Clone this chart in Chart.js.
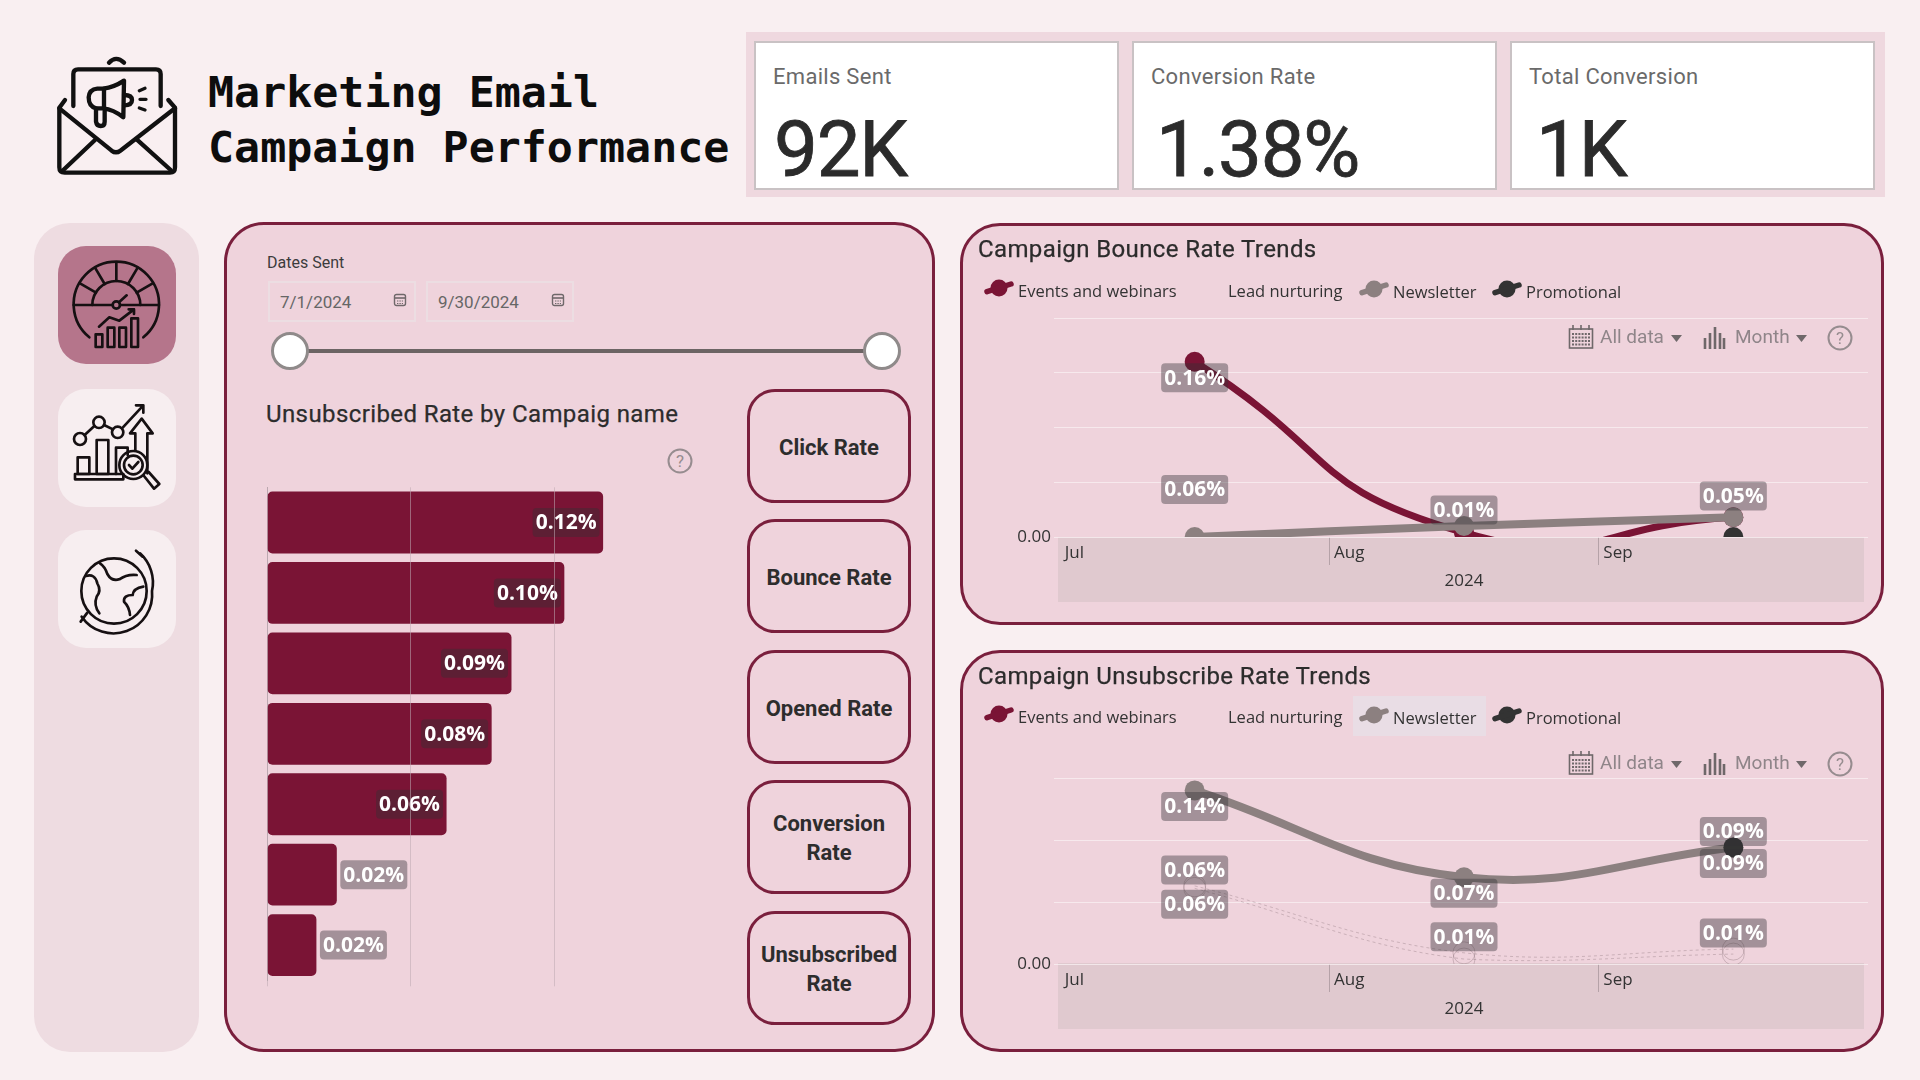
<!DOCTYPE html>
<html>
<head>
<meta charset="utf-8">
<title>Marketing Email Campaign Performance</title>
<script src="https://cdn.jsdelivr.net/npm/chart.js@4/dist/chart.umd.js"></script>
<style>
  html, body { margin: 0; padding: 0; }
  body { width: 1920px; height: 1080px; overflow: hidden; background: #f9eff1; position: relative; font-family: Roboto, sans-serif; color: #2f2f2f; }
  .box { position: absolute; box-sizing: border-box; }
  .t { position: absolute; white-space: nowrap; transform: translateY(-50%); }
  .panel { background: #efd3dc; border: 3px solid #7a1f3d; border-radius: 40px; }
  .band { background: #e0c9cf; }
  .metric-btn { border: 3px solid #7a1f3d; border-radius: 28px; display: flex; align-items: center; justify-content: center; text-align: center; font: 700 22px/29px Roboto, sans-serif; color: #2d2d2d; padding-top: 2px; }
  canvas { position: absolute; }
  svg { position: absolute; overflow: visible; }
</style>
</head>
<body>
<div class="box" style="left:746px;top:32px;width:1139px;height:165px;background:#efd8df"></div>

<!-- header icon -->
<svg style="left:40px;top:40px" width="150" height="150" viewBox="0 0 450 450" fill="none" stroke="#111" stroke-width="13" stroke-linecap="round" stroke-linejoin="round">
  <path d="M75 180 L58 203 V382 Q58 398 74 398 H390 Q405 398 405 382 V203 L385 180"/>
  <path d="M58 205 L215 332 Q228 342 241 332 L405 205"/>
  <path d="M165 300 L70 390 M290 298 L392 390"/>
  <path d="M100 198 V102 Q100 88 114 88 H348 Q362 88 362 102 V198"/>
  <path d="M207 68 Q228 45 252 68"/>
  <path d="M252 122 L250 232 Q220 208 190 205 H168 Q146 200 146 172 Q148 148 172 146 H190 Q222 142 252 122 Z"/>
  <path d="M192 146 V205 M168 205 V245 Q170 258 182 258 Q194 258 194 245 V208"/>
  <path d="M252 165 Q276 165 276 180 Q276 196 252 196"/>
  <path d="M298 152 L315 145 M300 178 L318 178 M298 204 L315 210" stroke-width="10"/>
</svg>
<div class="t" style="left:208px;top:92px;font:700 43.3px 'DejaVu Sans Mono',monospace;color:#0d0d0d">Marketing Email</div>
<div class="t" style="left:208px;top:147px;font:700 43.3px 'DejaVu Sans Mono',monospace;color:#0d0d0d">Campaign Performance</div>

<!-- sidebar -->
<div class="box" style="left:34px;top:223px;width:165px;height:829px;background:#eedce1;border-radius:36px"></div>
<div class="box" style="left:58px;top:246px;width:118px;height:118px;background:#b5758b;border-radius:28px"></div>
<div class="box" style="left:58px;top:389px;width:118px;height:118px;background:#f7eef0;border-radius:28px"></div>
<div class="box" style="left:58px;top:530px;width:118px;height:118px;background:#f7eef0;border-radius:28px"></div>
<svg style="left:30px;top:220px" width="180" height="450" viewBox="0 0 540 1350" fill="none" stroke="#161012" stroke-width="8" stroke-linecap="round" stroke-linejoin="round">
  <!-- gauge -->
  <path d="M178 352 A128 128 0 1 1 340 352"/>
  <path d="M131 255 H248 M270 255 H387"/>
  <path d="M187 255 A72 72 0 0 1 331 255"/>
  <path d="M259 127 V183 M195 143 L224 192 M150 190 L198 218 M323 143 L294 192 M368 190 L320 218"/>
  <circle cx="259" cy="255" r="11"/>
  <path d="M267 247 L290 226"/>
  <path d="M207 320 L238 292 L268 302 L312 268 M296 268 H312 V282"/>
  <rect x="197" y="343" width="20" height="38"/><rect x="233" y="323" width="20" height="58"/>
  <rect x="268" y="323" width="20" height="58"/><rect x="304" y="295" width="20" height="86"/>
  <!-- analysis -->
  <circle cx="150" cy="657" r="18"/><circle cx="207" cy="607" r="17"/><circle cx="263" cy="637" r="17"/>
  <path d="M164 645 L193 618 M222 615 L249 628 M276 625 L340 556 M318 556 H340 V578"/>
  <rect x="143" y="712" width="35" height="50"/><rect x="200" y="660" width="35" height="102"/>
  <path d="M258 762 V683 H293 V705"/>
  <rect x="135" y="762" width="145" height="16"/>
  <path d="M316 690 V640 H300 L335 596 L368 640 H352 V760"/>
  <circle cx="310" cy="735" r="42"/><circle cx="310" cy="735" r="28"/>
  <path d="M297 735 L307 746 L325 726"/>
  <path d="M342 768 L372 806 L388 792 L356 756"/>
  <!-- globe -->
  <circle cx="252" cy="1113" r="98"/>
  <path d="M330 1000 A118 118 0 0 1 366 1113 A116 116 0 0 1 155 1190"/>
  <path d="M318 992 L338 1010 M152 1205 L172 1178"/>
  <path d="M210 1030 Q225 1040 232 1062 Q245 1085 268 1078 Q290 1062 320 1065 M168 1068 Q195 1060 202 1090 Q215 1112 200 1130 Q190 1155 208 1180"/>
  <path d="M340 1100 Q310 1105 308 1125 Q280 1125 282 1145 Q298 1160 300 1185"/>
</svg>

<!-- main panels -->
<div class="box panel" style="left:224px;top:222px;width:711px;height:830px"></div>
<div class="box panel" style="left:960px;top:223px;width:924px;height:402px"></div>
<div class="box panel" style="left:960px;top:650px;width:924px;height:402px"></div>

<!-- axis bands behind the trend charts -->
<div class="box band" style="left:1058px;top:537px;width:806px;height:65px"></div>
<div class="box band" style="left:1058px;top:963px;width:806px;height:66px"></div>

<!-- newsletter highlight in lower legend -->
<div class="box" style="left:1353px;top:696px;width:133px;height:40px;background:#e9dde5"></div>

<canvas id="barChart" width="421" height="510" style="left:250px;top:480px"></canvas>
<canvas id="bounceChart" width="924" height="402" style="left:960px;top:223px"></canvas>
<canvas id="unsubChart" width="924" height="402" style="left:960px;top:650px"></canvas>

<script>
// kpi cards
const kpiLabels = ['Emails Sent', 'Conversion Rate', 'Total Conversion'];
const kpiValues = ['92K', '1.38%', '1K'];

// metric buttons
const metricButtons = ['Click Rate', 'Bounce Rate', 'Opened Rate', 'Conversion<br>Rate', 'Unsubscribed<br>Rate'];

// slicer
const dateFrom = '7/1/2024';
const dateTo = '9/30/2024';

// bar chart, campaign names are not shown on the report
const barCampaigns = ['Campaign 1', 'Campaign 2', 'Campaign 3', 'Campaign 4', 'Campaign 5', 'Campaign 6', 'Campaign 7'];
const barRates = [0.117, 0.1035, 0.0851, 0.0782, 0.0625, 0.0243, 0.0172];

// trend charts
const months = ['Jul', 'Aug', 'Sep'];
const yearLabel = '2024';
const campaignTypes = ['Events and webinars', 'Lead nurturing', 'Newsletter', 'Promotional'];

const bounceEvents = [0.16, 0.004, 0.018];
const bounceLead = [0.058, 0.01, 0.052];
const bounceNewsletter = [0.0, 0.01, 0.018];
const bouncePromotional = [null, null, 0.0];

const unsubEvents = [0.063, 0.009, 0.012];
const unsubLead = [0.061, 0.004, 0.008];
const unsubNewsletter = [0.14, 0.07, 0.094];
const unsubPromotional = [null, null, 0.094];

const MAROON = '#7a1435';
const GREY = '#8c8080';
const DARK = '#333333';
const HAIR = 'rgba(120,95,102,0.3)';

function addText(x, y, str, css) {
    const el = document.createElement('div');
    el.className = 't';
    el.style.cssText = 'left:' + x + 'px;top:' + y + 'px;' + css;
    el.innerHTML = str;
    document.body.appendChild(el);
    return el;
}

function addBox(x, y, w, h, css, html) {
    const el = document.createElement('div');
    el.className = 'box';
    el.style.cssText = 'left:' + x + 'px;top:' + y + 'px;width:' + w + 'px;height:' + h + 'px;' + css;
    if (html) el.innerHTML = html;
    document.body.appendChild(el);
    return el;
}

function addSvg(x, y, w, h, inner) {
    const wrap = document.createElementNS('http://www.w3.org/2000/svg', 'svg');
    wrap.setAttribute('width', w);
    wrap.setAttribute('height', h);
    wrap.setAttribute('viewBox', '0 0 ' + w + ' ' + h);
    wrap.style.left = x + 'px';
    wrap.style.top = y + 'px';
    wrap.innerHTML = inner;
    document.body.appendChild(wrap);
}

function helpIcon(cx, cy) {
    addSvg(cx - 14, cy - 14, 28, 28,
        '<circle cx="14" cy="14" r="11.5" fill="none" stroke="#968c8f" stroke-width="2"/>' +
        '<text x="14" y="20" text-anchor="middle" font-family="Roboto" font-size="17" fill="#968c8f">?</text>');
}

function calendarSmall(x, y) {
    addSvg(x, y, 14, 14,
        '<rect x="1.5" y="1.5" width="11" height="11" rx="2" fill="none" stroke="#6f686a" stroke-width="1.4"/>' +
        '<path d="M1.5 5 H12.5" stroke="#6f686a" stroke-width="1.6"/>' +
        '<path d="M4 8 H10 M4 10.5 H10" stroke="#6f686a" stroke-width="1" stroke-dasharray="1.4 1"/>');
}

// kpi row
kpiLabels.forEach(function (label, i) {
    const left = [754, 1132, 1510][i];
    addBox(left, 41, 365, 149, 'background:#fff;border:2px solid #c9c2c4');
    addText(left + 19, 76, label, 'font:400 22px Roboto,sans-serif;letter-spacing:.3px;color:#6a6a6a');
    addText(left + [20, 24, 26][i], 149, kpiValues[i], 'font:400 78px Roboto,sans-serif;letter-spacing:-1.2px;-webkit-text-stroke:.8px #2b2b2b;color:#2b2b2b');
});

// date slicer
addText(267, 262, 'Dates Sent', 'font:400 16px Roboto,sans-serif;color:#3c3c3c');
[[268, dateFrom], [426, dateTo]].forEach(function (d) {
    addBox(d[0], 281, 148, 41, 'border:2px solid #ecdde2');
    addText(d[0] + 12, 302, d[1], 'font:400 17px Roboto,sans-serif;color:#666');
    calendarSmall(d[0] + 125, 293);
});
addBox(290, 349, 592, 4, 'background:#6c6464');
addBox(271, 332, 38, 38, 'background:#fff;border:3px solid #8f8a8a;border-radius:50%');
addBox(863, 332, 38, 38, 'background:#fff;border:3px solid #8f8a8a;border-radius:50%');

addText(266, 414, 'Unsubscribed Rate by Campaig name', 'font:400 24px Roboto,sans-serif;letter-spacing:.4px;-webkit-text-stroke:.25px #2c2c2c;color:#2c2c2c');
helpIcon(680, 461);

// metric buttons
metricButtons.forEach(function (label, i) {
    const top = [389, 519, 650, 780, 911][i];
    const el = addBox(747, top, 164, 114, '', label);
    el.classList.add('metric-btn');
});

// panel title, legend and the small visual header of the trend charts
function trendChrome(title, titleY, legendY, ctrlY) {
    addText(978, titleY, title, 'font:400 24px Roboto,sans-serif;letter-spacing:.38px;-webkit-text-stroke:.25px #2c2c2c;color:#2c2c2c');
    const textX = [1018, 1228, 1393, 1526];
    const markX = [985, null, 1360, 1493];
    const markCol = [MAROON, null, GREY, DARK];
    const dy = [0, 0, 1, 1];
    campaignTypes.forEach(function (name, i) {
        addText(textX[i], legendY + dy[i], name, 'font:400 16.5px "Open Sans",sans-serif;color:#333');
        if (markX[i] !== null) {
            addSvg(markX[i], legendY - 9 + dy[i], 27, 18,
                '<circle cx="14" cy="7" r="8.5" fill="' + markCol[i] + '"/>' +
                '<path d="M2 10.7 L26 3" stroke="' + markCol[i] + '" stroke-width="5.5" stroke-linecap="round"/>');
        }
    });
    // all data / month controls
    let grid = '<rect x="1.5" y="4" width="23" height="19" fill="none" stroke="#6f686a" stroke-width="1.6"/>' +
        '<path d="M5 0 V5 M13 0 V5 M21 0 V5" stroke="#6f686a" stroke-width="1.6"/>' +
        '<path d="M4 9 H23 M4 12.5 H23 M4 16 H23 M4 19.5 H23" stroke="#6f686a" stroke-width="2" stroke-dasharray="2 1.2"/>';
    addSvg(1568, ctrlY - 12, 26, 24, grid);
    addText(1600, ctrlY - 1, 'All data', 'font:400 19px Roboto,sans-serif;color:#8f8589');
    addSvg(1671, ctrlY - 2, 11, 7, '<path d="M0 0 H11 L5.5 7 Z" fill="#6f686a"/>');
    addSvg(1703, ctrlY - 12, 22, 24,
        '<path d="M2 24 V13 M7 24 V8 M12 24 V2 M17 24 V8 M21 24 V13" stroke="#6f686a" stroke-width="2.6"/>');
    addText(1735, ctrlY - 1, 'Month', 'font:400 19px Roboto,sans-serif;color:#8f8589');
    addSvg(1796, ctrlY - 2, 11, 7, '<path d="M0 0 H11 L5.5 7 Z" fill="#6f686a"/>');
    helpIcon(1840, ctrlY + 1);
}
trendChrome('Campaign Bounce Rate Trends', 249, 290, 337);
trendChrome('Campaign Unsubscribe Rate Trends', 676, 716, 763);

// rounded value badge like the power bi data labels
function drawBadge(ctx, cx, cy, text) {
    const w = 67, h = 29;
    ctx.save();
    ctx.fillStyle = 'rgba(50,48,52,0.4)';
    ctx.beginPath();
    ctx.roundRect(cx - w / 2, cy - h / 2, w, h, 4);
    ctx.fill();
    ctx.fillStyle = '#fff';
    ctx.font = '700 21px "Open Sans", sans-serif';
    ctx.textAlign = 'center';
    ctx.textBaseline = 'middle';
    ctx.fillText(text, cx, cy + 1);
    ctx.restore();
}

const barBadges = {
    id: 'barBadges',
    afterDatasetsDraw: function (chart) {
        const meta = chart.getDatasetMeta(0);
        const data = chart.data.datasets[0].data;
        meta.data.forEach(function (bar, i) {
            const inside = bar.x - bar.base > 90;
            const cx = inside ? bar.x - 37 : bar.x + 37;
            drawBadge(chart.ctx, cx, bar.y, data[i].toFixed(2) + '%');
        });
    }
};

const pointBadges = {
    id: 'pointBadges',
    afterDatasetsDraw: function (chart) {
        chart.data.datasets.forEach(function (ds, d) {
            if (!ds.badges) return;
            const meta = chart.getDatasetMeta(d);
            ds.badges.forEach(function (where, i) {
                if (!where) return;
                const pt = meta.data[i];
                const y = pt.y + (where === 'above' ? -16 : 16);
                drawBadge(chart.ctx, pt.x, y, ds.data[i].toFixed(2) + '%');
            });
        });
    }
};

new Chart(document.getElementById('barChart'), {
    type: 'bar',
    data: {
        labels: barCampaigns,
        datasets: [{
            data: barRates,
            backgroundColor: MAROON,
            borderRadius: 5,
            borderSkipped: false,
            barPercentage: 0.878,
            categoryPercentage: 1
        }]
    },
    options: {
        indexAxis: 'y',
        responsive: false,
        animation: false,
        events: [],
        layout: { padding: { top: 7.3, right: 1.8, bottom: 4.2 } },
        scales: {
            x: {
                min: 0,
                max: 0.14,
                afterFit: function (s) { s.height = 5.5; },
                // only the 0.05 steps have a gridline, not the end of the axis
                afterBuildTicks: function (s) {
                    s.ticks = s.ticks.filter(function (t) { return t.value < 0.14; });
                },
                ticks: { stepSize: 0.05, callback: function () { return ''; } },
                grid: { color: 'rgba(190,170,178,0.55)', z: 1, tickLength: 6 },
                border: { display: false }
            },
            y: {
                afterFit: function (s) { s.width = 17; },
                ticks: { display: false },
                grid: { display: false },
                border: { color: '#b9a6ad' }
            }
        },
        plugins: { legend: { display: false }, tooltip: { enabled: false } }
    },
    plugins: [barBadges]
});

function thickLine(label, data, color, width, order, badges, tension) {
    return {
        label: label,
        data: data,
        borderColor: color,
        backgroundColor: color,
        borderWidth: width,
        pointRadius: 10,
        pointBorderWidth: 0,
        pointBackgroundColor: color,
        tension: tension || 0.42,
        capBezierPoints: false,
        clip: 0,
        order: order,
        badges: badges
    };
}

function hairLine(label, data, order, badges) {
    return {
        label: label,
        data: data,
        borderColor: HAIR,
        borderWidth: 1,
        borderDash: [3, 3],
        pointRadius: 11,
        pointBorderWidth: 1,
        pointBorderColor: HAIR,
        pointBackgroundColor: 'transparent',
        tension: 0.4,
        clip: 0,
        order: order,
        badges: badges
    };
}

function trendChart(id, datasets, yMax, padTop, padBottom, axisHeight) {
    return new Chart(document.getElementById(id), {
        type: 'line',
        data: { labels: months, datasets: datasets },
        options: {
            responsive: false,
            animation: false,
            events: [],
            spanGaps: false,
            layout: { padding: { top: padTop, right: 16, bottom: padBottom } },
            scales: {
                x: {
                    offset: true,
                    afterFit: function (s) { s.height = axisHeight; },
                    grid: {
                        offset: true,
                        drawOnChartArea: false,
                        tickLength: 28,
                        // only the month boundaries get a tick
                        color: function (c) {
                            return c.index === 1 || c.index === 2 ? '#b5a2a8' : 'transparent';
                        }
                    },
                    border: { display: false },
                    ticks: {
                        align: 'start',
                        labelOffset: -130,
                        padding: -22,
                        maxRotation: 0,
                        color: '#333',
                        font: { family: '"Open Sans", sans-serif', size: 17 }
                    },
                    title: {
                        display: true,
                        text: yearLabel,
                        color: '#333',
                        font: { family: '"Open Sans", sans-serif', size: 17 },
                        padding: { top: 0, bottom: 11 }
                    }
                },
                y: {
                    min: 0,
                    max: yMax,
                    afterFit: function (s) { s.width = 100; },
                    grid: { color: 'rgba(250,240,243,0.75)', tickLength: 6 },
                    border: { display: false },
                    ticks: {
                        stepSize: 0.05,
                        color: '#333',
                        font: { family: '"Open Sans", sans-serif', size: 17 },
                        padding: 3,
                        callback: function (v) { return v === 0 ? '0.00' : ''; }
                    }
                }
            },
            plugins: { legend: { display: false }, tooltip: { enabled: false } }
        },
        plugins: [pointBadges]
    });
}

trendChart('bounceChart', [
    thickLine(campaignTypes[0], bounceEvents, MAROON, 7, 1, ['below', null, null], 0.55),
    { label: campaignTypes[1], data: bounceLead, showLine: false, pointRadius: 0, order: 3, badges: ['below', 'above', 'below'] },
    thickLine(campaignTypes[2], bounceNewsletter, GREY, 8, 0, null),
    thickLine(campaignTypes[3], bouncePromotional, DARK, 6, 2, null)
], 0.2, 95, 23, 65);

trendChart('unsubChart', [
    hairLine(campaignTypes[0], unsubEvents, 3, ['above', 'above', 'above']),
    hairLine(campaignTypes[1], unsubLead, 2, ['below', null, null]),
    thickLine(campaignTypes[2], unsubNewsletter, GREY, 8, 1, ['below', 'below', 'below']),
    thickLine(campaignTypes[3], unsubPromotional, DARK, 6, 0, [null, null, 'above'])
], 0.15, 128, 22, 66);
</script>
</body>
</html>
